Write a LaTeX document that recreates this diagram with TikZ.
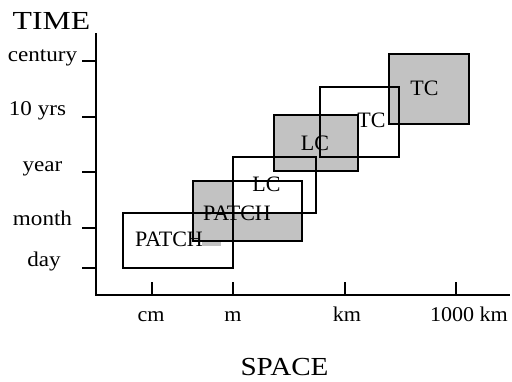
\documentclass[tikz,border=0pt]{standalone}
\usepackage{fontspec}
\setmainfont{Liberation Serif}
\begin{document}
\begin{tikzpicture}[x=1pt,y=-1pt,
  shade/.style={fill=black!24},
  box/.style={draw=black,line width=1.8pt},
  axisline/.style={draw=black,line width=2pt},
  lab/.style={anchor=base,inner sep=0pt,font=\fontsize{21}{21}\selectfont},
  blab/.style={anchor=base,inner sep=0pt,font=\fontsize{22}{22}\selectfont},
  big/.style={anchor=base,inner sep=0pt,font=\fontsize{26}{26}\selectfont}]
\useasboundingbox (0,0) rectangle (512,381);
% fills
\fill[shade] (193,181) rectangle (302,241);
\fill[white] (233,157) rectangle (316,213);
\fill[shade] (274,115) rectangle (358,171);
\fill[shade] (389,54) rectangle (469,124);
\fill[shade] (202,236) rectangle (221,246);
% borders
\draw[box] (193,181) rectangle (302,241);
\draw[box] (123,213) rectangle (233,268);
\draw[box] (233,157) rectangle (316,213);
\draw[box] (274,115) rectangle (358,171);
\draw[box] (320,87) rectangle (399,157);
\draw[box] (389,54) rectangle (469,124);
% axes
\coordinate (top) at (96,33);
\coordinate (origin) at (96,295);
\coordinate (right) at (510,295);
\draw[axisline] (top) -- (origin) -- (right);
% y ticks
\foreach \y/\n in {61/century,117/tenyrs,172/year,228/month,268/day}{
  \coordinate (ty\n) at (96,\y);
  \draw[axisline] (ty\n) -- ++(-14,0);
}
% x ticks
\foreach \x/\n in {152/cm,233/m,345/km,456/kkm}{
  \coordinate (tx\n) at (\x,295);
  \draw[axisline] (tx\n) -- ++(0,-13);
}
% labels
\node[big] (time) at (51.5,29) {\scalebox{1.22}[1]{TIME}};
\node[big] (space) at (284.5,375.5) {\scalebox{1.12}[1]{SPACE}};
\node[lab] (lcent) at (42.5,61) {\scalebox{1.1}[1]{century}};
\node[lab] (l10) at (37.5,115) {\scalebox{1.1}[1]{10 yrs}};
\node[lab] (lyear) at (42.5,171) {\scalebox{1.1}[1]{year}};
\node[lab] (lmonth) at (42.5,225) {\scalebox{1.1}[1]{month}};
\node[lab] (lday) at (44,266.5) {\scalebox{1.1}[1]{day}};
\node[lab] (lcm) at (151,321.5) {\scalebox{1.05}[1]{cm}};
\node[lab] (lm) at (233,321.5) {\scalebox{1.05}[1]{m}};
\node[lab] (lkm) at (347,321.5) {\scalebox{1.05}[1]{km}};
\node[lab] (lkkm) at (469,321.5) {\scalebox{1.05}[1]{1000 km}};
% box labels
\node[blab] (p1) at (169,246.5) {PATCH};
\node[blab] (p2) at (237,220) {PATCH};
\node[blab] (lc1) at (266.5,191) {LC};
\node[blab] (lc2) at (315,150) {LC};
\node[blab] (tc1) at (371.5,127.5) {TC};
\node[blab] (tc2) at (424.5,95) {TC};
\end{tikzpicture}
\end{document}
